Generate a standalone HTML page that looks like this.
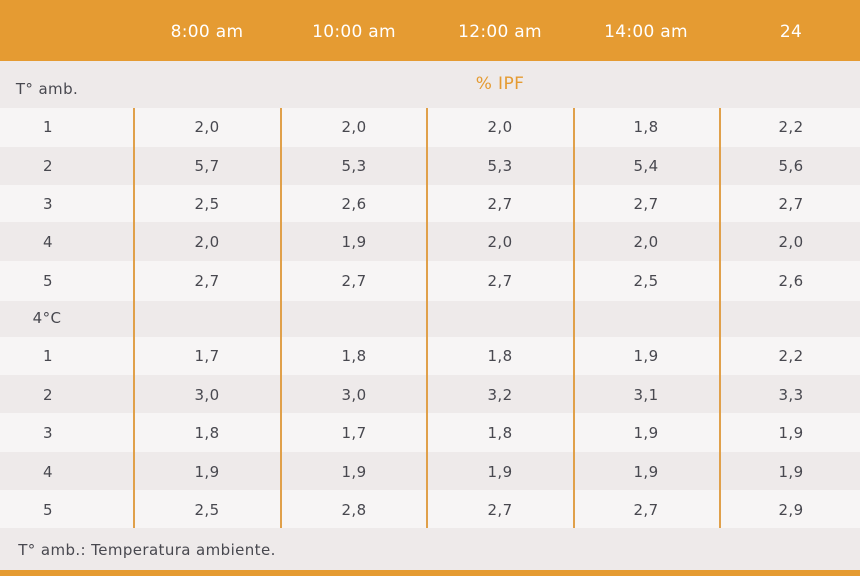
<!DOCTYPE html>
<html><head><meta charset="utf-8"><style>
*{margin:0;padding:0;box-sizing:border-box}
body{width:860px;height:576px;overflow:hidden;background:#f7f5f5;font-family:"DejaVu Sans","Liberation Sans",sans-serif;color:#48484f;position:relative}
.hdr{position:absolute;left:0;top:0;width:860px;height:61px;background:#e59b32}
.r{position:absolute;left:0;width:860px}
.g{background:#eeeaea}
.l{background:#f7f5f5}
.t{position:absolute;transform:translate(-50%,-50%);white-space:nowrap;font-size:15px;letter-spacing:0.4px}
.h{color:#fff;font-size:17px;letter-spacing:0.3px}
.v{position:absolute;top:108px;height:420px;width:2px;background:#e0a04a}
</style></head><body>
<div class="hdr"></div>
<div class="r g" style="top:61px;height:47px"></div>
<div class="r l" style="top:108px;height:39px"></div>
<div class="r g" style="top:147px;height:38px"></div>
<div class="r l" style="top:185px;height:37px"></div>
<div class="r g" style="top:222px;height:39px"></div>
<div class="r l" style="top:261px;height:40px"></div>
<div class="r g" style="top:301px;height:36px"></div>
<div class="r l" style="top:337px;height:38px"></div>
<div class="r g" style="top:375px;height:38px"></div>
<div class="r l" style="top:413px;height:39px"></div>
<div class="r g" style="top:452px;height:38px"></div>
<div class="r l" style="top:490px;height:38px"></div>
<div class="r g" style="top:528px;height:42px"></div>
<div class="r" style="top:570px;height:6px;background:#e59b32"></div>
<div class="v" style="left:133px"></div>
<div class="v" style="left:280px"></div>
<div class="v" style="left:426px"></div>
<div class="v" style="left:573px"></div>
<div class="v" style="left:719px"></div>
<div id="c"></div>
<script>
var xs=[48,207,354,500,646,791];
var c=document.getElementById('c'),h='';
function T(x,y,s,cls,st){h+='<div class="t '+(cls||'')+'" style="left:'+x+'px;top:'+y+'px;'+(st||'')+'">'+s+'</div>';}
var hd=['8:00 am','10:00 am','12:00 am','14:00 am','24'];
for(var i=0;i<5;i++)T(xs[i+1],32,hd[i],'h');
T(47,89,'T° amb.');
T(500,84,'% IPF','','color:#e59b32;font-size:17px');
var d1=[['2,0','2,0','2,0','1,8','2,2'],['5,7','5,3','5,3','5,4','5,6'],['2,5','2,6','2,7','2,7','2,7'],['2,0','1,9','2,0','2,0','2,0'],['2,7','2,7','2,7','2,5','2,6']];
var d2=[['1,7','1,8','1,8','1,9','2,2'],['3,0','3,0','3,2','3,1','3,3'],['1,8','1,7','1,8','1,9','1,9'],['1,9','1,9','1,9','1,9','1,9'],['2,5','2,8','2,7','2,7','2,9']];
var y1=[127,166,204,242,281],y2=[356,395,433,472,510];
for(var r=0;r<5;r++){T(48,y1[r],r+1);T(48,y2[r],r+1);for(var k=0;k<5;k++){T(xs[k+1],y1[r],d1[r][k]);T(xs[k+1],y2[r],d2[r][k]);}}
T(47,318,'4°C');
T(147,550,'T° amb.: Temperatura ambiente.');
c.innerHTML=h;
</script>
</body></html>
